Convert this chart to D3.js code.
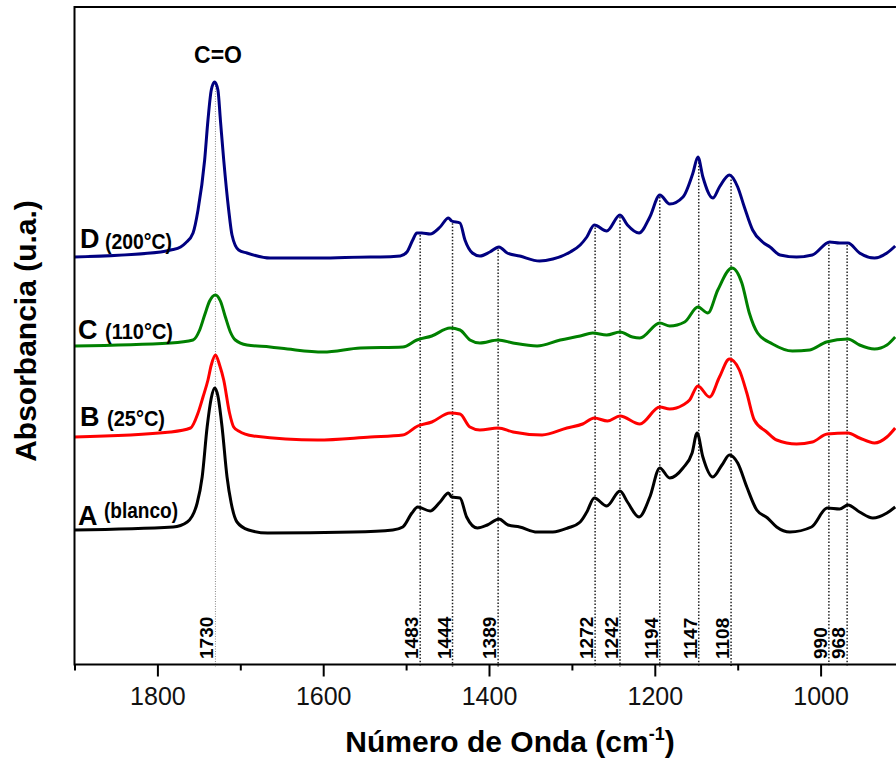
<!DOCTYPE html>
<html>
<head>
<meta charset="utf-8">
<script src="https://cdn.jsdelivr.net/npm/d3@7"></script>
<style>
  html, body { margin: 0; padding: 0; background: #fff; }
  svg { display: block; font-family: "Liberation Sans", Arial, sans-serif; }
</style>
</head>
<body>
<div id="chart"></div>
<script>
// FTIR spectra, [wavenumber (cm-1), absorbance (a.u., stacked)]
const seriesA = [
  [1900,1.34],[1781,1.37],[1764,1.42],[1752,1.61],[1746,1.87],[1740,2.37],[1735,2.66],[1731,2.76],
  [1727,2.68],[1722,2.37],[1716,1.87],[1711,1.61],[1704,1.42],[1690,1.34],[1667,1.31],[1564,1.32],
  [1516,1.34],[1504,1.37],[1493,1.51],[1486,1.57],[1471,1.53],[1459,1.62],[1449,1.71],[1445,1.67],
  [1435,1.66],[1427,1.47],[1414,1.36],[1402,1.39],[1388,1.45],[1377,1.39],[1363,1.37],[1342,1.32],
  [1323,1.32],[1305,1.36],[1290,1.42],[1282,1.52],[1273,1.66],[1258,1.58],[1242,1.73],[1233,1.62],
  [1219,1.47],[1206,1.67],[1194,1.96],[1182,1.86],[1166,1.96],[1155,2.11],[1149,2.31],[1142,2.07],
  [1130,1.87],[1119,1.99],[1110,2.09],[1100,2.01],[1089,1.77],[1077,1.54],[1064,1.46],[1053,1.37],
  [1037,1.32],[1011,1.37],[992,1.56],[977,1.55],[967,1.59],[953,1.52],[937,1.46],[920,1.51],[910,1.57]
];
const seriesB = [
  [1900,2.27],[1784,2.32],[1760,2.36],[1751,2.51],[1745,2.67],[1739,2.84],[1735,2.99],[1730,3.09],
  [1725,2.99],[1720,2.84],[1713,2.51],[1708,2.37],[1702,2.33],[1684,2.28],[1607,2.24],[1543,2.27],
  [1504,2.29],[1486,2.38],[1469,2.42],[1447,2.51],[1435,2.50],[1423,2.37],[1411,2.34],[1389,2.36],
  [1371,2.32],[1336,2.29],[1306,2.36],[1287,2.40],[1273,2.46],[1257,2.43],[1242,2.48],[1218,2.40],
  [1194,2.57],[1182,2.55],[1166,2.59],[1158,2.64],[1148,2.78],[1134,2.67],[1122,2.87],[1110,3.05],
  [1098,2.94],[1089,2.71],[1080,2.44],[1065,2.32],[1053,2.24],[1029,2.20],[1010,2.22],[992,2.30],
  [967,2.31],[953,2.26],[935,2.21],[920,2.27],[910,2.36]
];
const seriesC = [
  [1900,3.18],[1784,3.21],[1757,3.24],[1749,3.34],[1743,3.49],[1737,3.63],[1730,3.69],[1724,3.63],
  [1718,3.47],[1712,3.32],[1706,3.24],[1692,3.19],[1664,3.17],[1643,3.15],[1600,3.12],[1555,3.16],
  [1504,3.17],[1487,3.24],[1469,3.28],[1447,3.36],[1435,3.34],[1423,3.24],[1411,3.21],[1389,3.24],
  [1371,3.21],[1342,3.18],[1314,3.24],[1290,3.28],[1275,3.31],[1258,3.29],[1242,3.32],[1227,3.27],
  [1218,3.26],[1194,3.41],[1182,3.38],[1164,3.42],[1148,3.57],[1136,3.51],[1124,3.74],[1107,3.96],
  [1095,3.81],[1086,3.51],[1076,3.31],[1058,3.20],[1034,3.13],[1013,3.14],[993,3.22],[967,3.25],
  [953,3.19],[935,3.15],[920,3.19],[910,3.27]
];
const seriesD = [
  [1900,4.07],[1796,4.12],[1784,4.14],[1772,4.17],[1766,4.21],[1757,4.31],[1751,4.54],[1743,5.04],
  [1739,5.44],[1735,5.74],[1731,5.82],[1727,5.74],[1724,5.44],[1720,5.04],[1714,4.54],[1710,4.29],
  [1702,4.14],[1692,4.11],[1664,4.06],[1604,4.06],[1543,4.07],[1531,4.07],[1507,4.08],[1499,4.12],
  [1492,4.24],[1487,4.31],[1481,4.31],[1471,4.30],[1459,4.37],[1449,4.46],[1445,4.43],[1435,4.41],
  [1429,4.24],[1420,4.11],[1411,4.08],[1399,4.12],[1388,4.17],[1378,4.11],[1363,4.08],[1339,4.03],
  [1323,4.05],[1302,4.12],[1290,4.19],[1282,4.27],[1273,4.39],[1258,4.33],[1242,4.49],[1233,4.39],
  [1219,4.31],[1206,4.47],[1194,4.69],[1182,4.60],[1166,4.67],[1154,4.91],[1148,5.07],[1142,4.87],
  [1130,4.66],[1122,4.77],[1110,4.89],[1100,4.77],[1092,4.57],[1082,4.34],[1070,4.22],[1061,4.17],
  [1049,4.09],[1029,4.07],[1010,4.09],[989,4.22],[977,4.21],[967,4.21],[953,4.11],[935,4.06],
  [920,4.11],[910,4.18]
];

const seriesColors = ["#000000", "#ff0000", "#008000", "#000080"];
const seriesLetters = ["A", "B", "C", "D"];
const seriesNotes = ["(blanco)", "(25°C)", "(110°C)", "(200°C)"];

const peakLabels = [1730, 1483, 1444, 1389, 1272, 1242, 1194, 1147, 1108, 990, 968];
const majorTicks = [1800, 1600, 1400, 1200, 1000];
const minorTicks = [1900, 1700, 1500, 1300, 1100, 900];

const W = 896, H = 761;
const plotLeft = 74.5, plotTop = 7, plotBottom = 664.5;

const svg = d3.select("#chart").append("svg")
    .attr("width", W)
    .attr("height", H);

const x = d3.scaleLinear().domain([1900, 900]).range([plotLeft, 903.5]);
const y = d3.scaleLinear().domain([0, 6.58]).range([664, 6]);

// linear lookup on a spectrum, used for the top of the marker lines
function valueAt(series, w) {
    for (let i = 0; i < series.length - 1; i++) {
        const a = series[i], b = series[i + 1];
        if (w <= a[0] && w >= b[0]) {
            const t = (a[0] - w) / (a[0] - b[0]);
            return a[1] + t * (b[1] - a[1]);
        }
    }
    return series[series.length - 1][1];
}

// marker lines
svg.append("g").attr("class", "peakLines")
    .selectAll("line")
    .data(peakLabels)
    .join("line")
    .attr("x1", d => x(d))
    .attr("x2", d => x(d))
    .attr("y1", d => y(valueAt(seriesD, d)) + 2)
    .attr("y2", plotBottom + 2)
    .attr("stroke", d => d === 1730 ? "#888" : "#222")
    .attr("stroke-width", d => d === 1730 ? 1 : 1.5)
    .attr("stroke-dasharray", d => d === 1730 ? "1,1.5" : "1.5,1.8");

// spectra
const line = d3.line()
    .x(d => x(d[0]))
    .y(d => y(d[1]))
    .curve(d3.curveMonotoneX);

const allSeries = [seriesA, seriesB, seriesC, seriesD];
svg.append("g").attr("class", "spectra")
    .selectAll("path")
    .data(allSeries)
    .join("path")
    .attr("d", line)
    .attr("fill", "none")
    .attr("stroke", (d, i) => seriesColors[i])
    .attr("stroke-width", 3)
    .attr("stroke-linejoin", "round");

// peak numbers
svg.append("g").attr("class", "peakText")
    .selectAll("text")
    .data(peakLabels)
    .join("text")
    .attr("transform", d => `translate(${x(d) - 2},659) rotate(-90)`)
    .attr("font-size", "19px")
    .attr("font-weight", "bold")
    .attr("fill", "#000")
    .text(d => d);

// axes
const xAxisMajor = d3.axisBottom(x).tickValues(majorTicks).tickSize(12).tickSizeOuter(0)
    .tickPadding(11).tickFormat(d3.format("d"));
const xAxisMinor = d3.axisBottom(x).tickValues(minorTicks).tickSize(6).tickSizeOuter(0).tickFormat("");

svg.append("g").attr("class", "xAxisMinor")
    .attr("transform", `translate(0,${plotBottom})`)
    .call(xAxisMinor);
const gx = svg.append("g").attr("class", "xAxisG")
    .attr("transform", `translate(0,${plotBottom})`)
    .call(xAxisMajor);

svg.selectAll(".xAxisG, .xAxisMinor").selectAll(".domain").remove();
svg.selectAll(".xAxisG line, .xAxisMinor line").attr("stroke", "#000").attr("stroke-width", 2);
gx.selectAll("text")
    .attr("font-size", "25px")
    .attr("font-family", "'Liberation Sans', Arial, sans-serif")
    .attr("fill", "#111");

// frame: left, top, bottom
svg.append("path")
    .attr("d", `M${W},${plotTop}H${plotLeft}V${plotBottom}H${W}`)
    .attr("fill", "none")
    .attr("stroke", "#000")
    .attr("stroke-width", 2);

// C=O label
svg.append("text")
    .attr("x", 218)
    .attr("y", 63)
    .attr("text-anchor", "middle")
    .attr("font-size", "23px")
    .attr("font-weight", "bold")
    .text("C=O");

// series labels
const labelPos = [
    {lx: 78, ly: 525, nx: 104, ny: 518, nw: 74},
    {lx: 80, ly: 426, nx: 107, ny: 426, nw: 58},
    {lx: 78, ly: 339, nx: 105, ny: 339, nw: 68},
    {lx: 80, ly: 248, nx: 105, ny: 249, nw: 67}
];
labelPos.forEach((p, i) => {
    svg.append("text")
        .attr("x", p.lx).attr("y", p.ly)
        .attr("font-size", "27px")
        .attr("font-weight", "bold")
        .text(seriesLetters[i]);
    svg.append("text")
        .attr("x", p.nx).attr("y", p.ny)
        .attr("font-size", "22px")
        .attr("font-weight", "bold")
        .attr("textLength", p.nw)
        .attr("lengthAdjust", "spacingAndGlyphs")
        .text(seriesNotes[i]);
});

// axis titles
const xTitle = svg.append("text")
    .attr("x", 510)
    .attr("y", 752)
    .attr("text-anchor", "middle")
    .attr("font-size", "30px")
    .attr("font-weight", "bold");
xTitle.append("tspan").text("Número de Onda (cm");
xTitle.append("tspan").attr("dy", -12).attr("font-size", "18px").text("-1");
xTitle.append("tspan").attr("dy", 12).text(")");

svg.append("text")
    .attr("transform", "translate(36,331) rotate(-90)")
    .attr("text-anchor", "middle")
    .attr("font-size", "30px")
    .attr("font-weight", "bold")
    .text("Absorbancia (u.a.)");
</script>
</body>
</html>
